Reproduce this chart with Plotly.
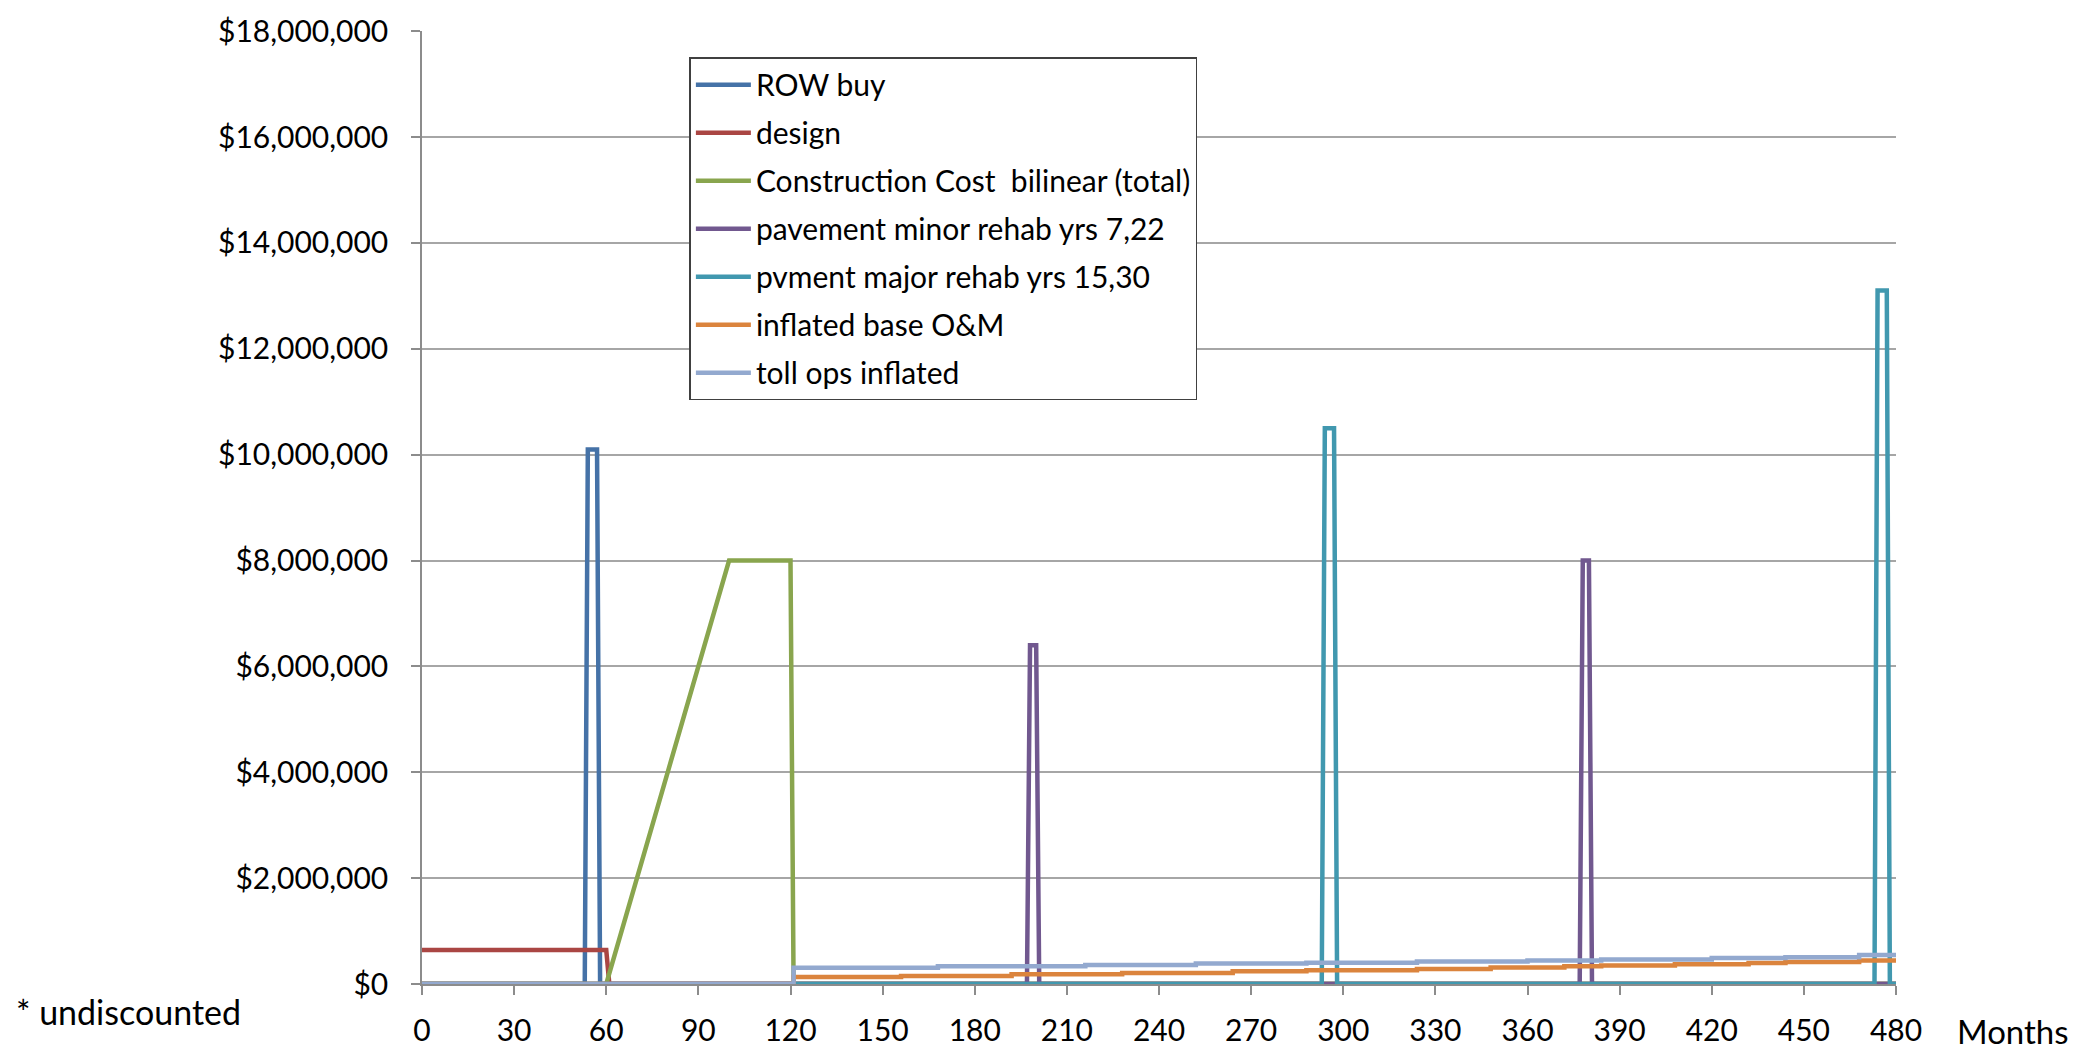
import plotly.graph_objects as go

# ---- data (months, dollars) ----
row_months = [0, 53, 54, 57, 58, 480]
row_values = [0, 0, 10_100_000, 10_100_000, 0, 0]

design_months = [0, 60, 61, 480]
design_values = [640_000, 640_000, 0, 0]

constr_months = [0, 60, 80, 100, 120, 121, 480]
constr_values = [0, 0, 4_000_000, 8_000_000, 8_000_000, 0, 0]

minor_months = [0, 197, 198, 200, 201, 377, 378, 380, 381, 480]
minor_values = [0, 0, 6_400_000, 6_400_000, 0, 0, 8_000_000, 8_000_000, 0, 0]

major_months = [0, 293, 294, 297, 298, 473, 474, 477, 478, 480]
major_values = [0, 0, 10_500_000, 10_500_000, 0, 0, 13_100_000, 13_100_000, 0, 0]

om_months = [0, 121, 156, 192, 228, 264, 288, 324, 348, 372, 384, 408, 432, 444, 468, 480]
om_values = [0, 130_000, 150_000, 185_000, 210_000, 240_000, 258_000, 285_000, 310_000,
             335_000, 350_000, 375_000, 395_000, 415_000, 445_000, 445_000]

toll_months = [0, 121, 168, 216, 252, 288, 324, 360, 384, 420, 444, 468, 480]
toll_values = [0, 305_000, 335_000, 358_000, 385_000, 402_000, 425_000, 445_000,
               465_000, 490_000, 505_000, 550_000, 550_000]

series_names = ["ROW buy", "design", "Construction Cost\u00a0 bilinear (total)",
                "pavement minor rehab yrs 7,22", "pvment major rehab yrs 15,30",
                "inflated base O&M", "toll ops inflated"]
colors = ["#4572A7", "#AA4643", "#89A54E", "#71588F", "#4198AF", "#DB843D", "#93A9CF"]

x_ticks = list(range(0, 481, 30))
y_ticks = list(range(0, 18_000_001, 2_000_000))

FONT = "Lato, Carlito, Calibri, sans-serif"

data = [
    (row_months, row_values, "linear"),
    (design_months, design_values, "linear"),
    (constr_months, constr_values, "linear"),
    (minor_months, minor_values, "linear"),
    (major_months, major_values, "linear"),
    (om_months, om_values, "hv"),
    (toll_months, toll_values, "hv"),
]

fig = go.Figure()
for (xs, ys, shape), name, col in zip(data, series_names, colors):
    fig.add_trace(go.Scatter(
        x=xs, y=ys, mode="lines", name=name, legendgroup=name,
        line=dict(color=col, width=4.5, shape=shape),
    ))

fig.update_layout(
    width=2085, height=1059,
    margin=dict(l=422, r=189, t=25, b=65),
    paper_bgcolor="white", plot_bgcolor="white",
    font=dict(family=FONT, size=30, color="black"),
    showlegend=True,
    legend=dict(
        x=0.1814, y=0.9725, xanchor="left", yanchor="top",
        bgcolor="white", bordercolor="#404040", borderwidth=1.5,
        font=dict(family=FONT, size=30, color="black"),
        tracegroupgap=6, itemwidth=55,
    ),
    xaxis=dict(
        range=[0, 480], tickvals=x_ticks, ticktext=[str(v) for v in x_ticks],
        showgrid=False, zeroline=False, showline=True, linecolor="#8c8c8c", linewidth=1.5,
        ticks="outside", ticklen=9, tickcolor="#8c8c8c", tickwidth=1.5,
        tickfont=dict(family=FONT, size=30), ticklabelstandoff=10,
    ),
    yaxis=dict(
        range=[0, 18_004_000], tickvals=y_ticks, tickformat="$,.0f",
        showgrid=True, gridcolor="#a6a6a6", gridwidth=1.5, zeroline=False,
        showline=True, linecolor="#8c8c8c", linewidth=1.5,
        ticks="outside", ticklen=9, tickcolor="#8c8c8c", tickwidth=1.5,
        tickfont=dict(family=FONT, size=30), ticklabelstandoff=17,
    ),
    annotations=[
        dict(text="Months", xref="paper", yref="paper", x=1.0401, y=-0.0495,
             xanchor="left", yanchor="middle", showarrow=False,
             font=dict(family=FONT, size=33)),
        dict(text="* undiscounted", xref="paper", yref="paper", x=-0.2765, y=-0.0289,
             xanchor="left", yanchor="middle", showarrow=False,
             font=dict(family=FONT, size=34)),
    ],
)

page_css = (
    "var h=document.documentElement, b=document.body;"
    "[h,b].forEach(function(e){e.style.margin='0';e.style.padding='0';"
    "e.style.overflow='hidden';e.style.height='1059px';e.style.width='2085px';});"
)

fig.write_html("out.html", config={"displayModeBar": False}, post_script=page_css)
